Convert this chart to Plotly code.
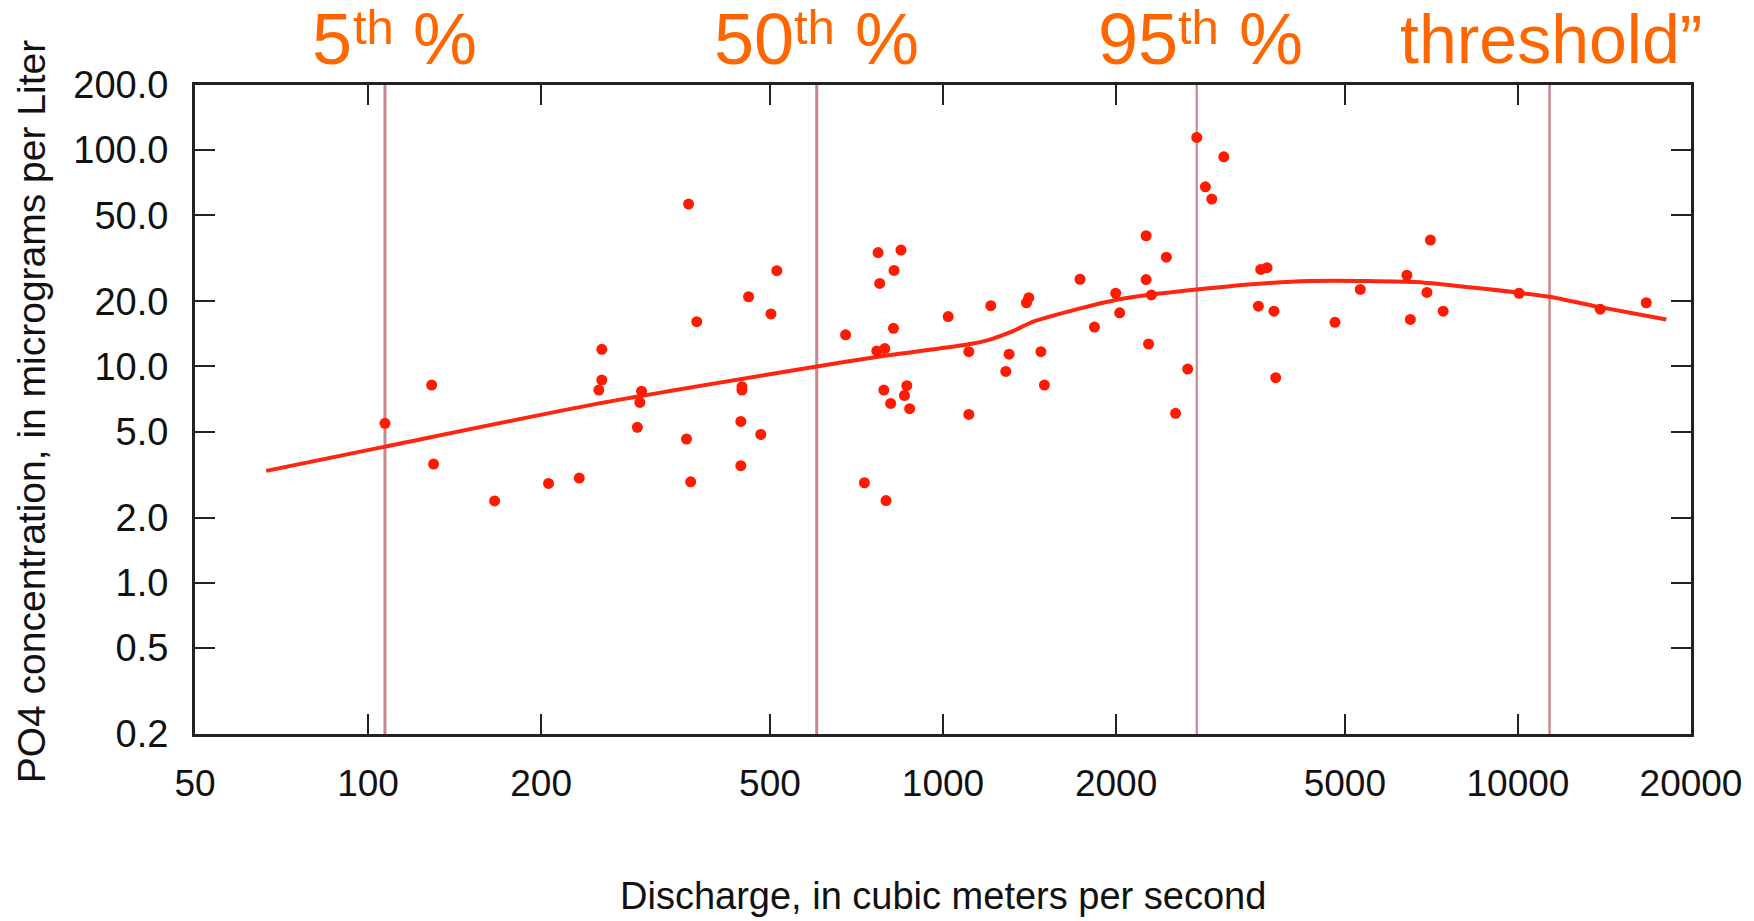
import math
import plotly.graph_objects as go

# ---- data ----
discharge = [107, 129, 130, 166, 206, 233, 255, 255, 252, 299, 297, 294, 361, 373, 358, 364,
             447, 447, 445, 445, 459, 482, 502, 514, 677, 730,
             771, 776, 767, 792, 845, 822, 820, 789, 811, 865, 857, 875, 796,
             1021, 1109, 1109, 1211, 1303, 1286, 1397, 1410, 1480, 1501, 1731, 1834,
             1997, 2029, 2256, 2256, 2304, 2278, 2446, 2538, 2664, 2763, 3079, 2860, 2934,
             3536, 3570, 3661, 3764, 3790, 4805, 5318, 6410, 6499, 7043, 6946, 7413,
             10046, 13904, 16720]
po4 = [5.46, 8.2, 3.54, 2.39, 2.88, 3.05, 12.0, 8.65, 7.78, 7.69, 6.82, 5.23, 56.3, 16.1, 4.62, 2.93,
       7.78, 8.06, 5.57, 3.48, 21.0, 4.85, 17.5, 27.7, 14.0, 2.90,
       33.6, 24.2, 11.8, 12.1, 34.5, 27.8, 15.0, 7.78, 6.75, 8.15, 7.35, 6.38, 2.40,
       17.0, 11.7, 6.0, 19.1, 11.4, 9.48, 19.7, 20.8, 11.7, 8.2, 25.3, 15.2,
       21.8, 17.7, 40.2, 25.2, 21.4, 12.7, 32.0, 6.07, 9.73, 114.4, 93.1, 67.7, 59.4,
       19.0, 28.1, 28.6, 18.0, 8.87, 16.0, 22.7, 26.4, 16.5, 38.4, 22.0, 18.0,
       21.8, 18.4, 19.7]

curve_q = [66.5, 107, 252, 603, 771, 1089, 1194, 1310, 1436, 1726, 1997, 2304, 2763,
           3447, 4341, 5467, 6883, 8668, 11350, 13740, 18120]
curve_c = [3.29, 4.26, 6.75, 10.0, 11.1, 12.56, 13.2, 14.4, 16.1, 18.5, 20.3, 21.5, 22.7,
           24.0, 24.8, 24.8, 24.4, 22.9, 21.0, 18.9, 16.5]

marker_q = [107, 603, 2763, 11350]
label_main = ["5", "50", "95", "threshold\u201d"]
label_sup = ["th", "th", "th", ""]
label_tail = [" %", " %", " %", ""]

x_ticks = [50, 100, 200, 500, 1000, 2000, 5000, 10000, 20000]
x_tick_text = ["50", "100", "200", "500", "1000", "2000", "5000", "10000", "20000"]
y_ticks = [0.2, 0.5, 1, 2, 5, 10, 20, 50, 100, 200]
y_tick_text = ["0.2", "0.5", "1.0", "2.0", "5.0", "10.0", "20.0", "50.0", "100.0", "200.0"]

x_title = "Discharge, in cubic meters per second"
y_title = "PO4 concentration, in micrograms per Liter"

# ---- styles ----
FONT = "Liberation Sans, Arial, Helvetica, sans-serif"
ORANGE = "#ff6600"
SUP = 49
label_sizes = [72, 72, 72, 68]
label_nudge = [8, -2, 2, 0]          # px
line_widths = [3, 3, 2.2, 2.5]
YMIN, YMAX = 0.2, 200

# Arial / Liberation Sans advance widths (em) for measuring label pieces
CW = {"0": .556, "5": .556, "9": .556, "t": .278, "h": .556, " ": .278, "%": .889,
      "r": .333, "e": .556, "s": .5, "o": .556, "l": .222, "d": .556, "\u201d": .333}


def text_w(s, size):
    return sum(CW.get(c, .556) for c in s) * size


fig = go.Figure()

for q, w in zip(marker_q, line_widths):
    fig.add_trace(go.Scatter(x=[q, q], y=[YMIN, YMAX], mode="lines",
                             line=dict(color="#c9868e", width=w), hoverinfo="skip"))

fig.add_trace(go.Scatter(x=curve_q, y=curve_c, mode="lines",
                         line=dict(color="#ff2510", width=4, shape="spline", smoothing=0.6),
                         hoverinfo="skip"))
fig.add_trace(go.Scatter(x=discharge, y=po4, mode="markers",
                         marker=dict(color="#ff1a00", size=11, line=dict(width=0))))

# percentile labels (base text, superscript, tail) centred over each line
for q, m, s, t, big, nudge in zip(marker_q, label_main, label_sup, label_tail,
                                  label_sizes, label_nudge):
    wm, ws, wt = text_w(m, big), text_w(s, SUP), text_w(t, big)
    left = -(wm + ws + wt) / 2 + nudge
    pieces = [(m, big, left, 1.071), (s, SUP, left + wm, 1.0888), (t, big, left + wm + ws, 1.071)]
    for txt, size, shift, ypos in pieces:
        if not txt:
            continue
        fig.add_annotation(x=math.log10(q), xref="x", y=ypos, yref="paper", text=txt,
                           showarrow=False, xanchor="left", yanchor="middle", xshift=shift,
                           font=dict(family=FONT, size=size, color=ORANGE))

fig.add_annotation(x=0.5, xref="paper", y=-0.25, yref="paper", text=x_title,
                   showarrow=False, xanchor="center", yanchor="middle",
                   font=dict(family=FONT, size=38, color="#111111"))
fig.add_annotation(x=-0.1095, xref="paper", y=0.496, yref="paper", text=y_title,
                   showarrow=False, xanchor="center", yanchor="middle", textangle=-90,
                   font=dict(family=FONT, size=39, color="#111111"))

axis_common = dict(type="log", ticks="inside", ticklen=20, tickwidth=2, tickcolor="#222222",
                   showline=True, linewidth=3, linecolor="#222222", mirror="ticks",
                   showgrid=False, zeroline=False)

fig.update_layout(
    width=1754, height=921,
    margin=dict(l=195, r=61, t=85, b=187),
    paper_bgcolor="white", plot_bgcolor="white",
    showlegend=False,
    font=dict(family=FONT, color="#111111"),
    xaxis=dict(range=[math.log10(50), math.log10(20000)], tickvals=x_ticks, ticktext=x_tick_text,
               tickfont=dict(size=37, family=FONT, color="#111111"), ticklabelstandoff=15,
               **axis_common),
    yaxis=dict(range=[math.log10(YMIN), math.log10(YMAX)], tickvals=y_ticks, ticktext=y_tick_text,
               tickfont=dict(size=38, family=FONT, color="#111111"), ticklabelstandoff=16,
               **axis_common),
)

fig.write_html("out.html", config={"displayModeBar": False},
               post_script="document.body.style.margin='0';")
